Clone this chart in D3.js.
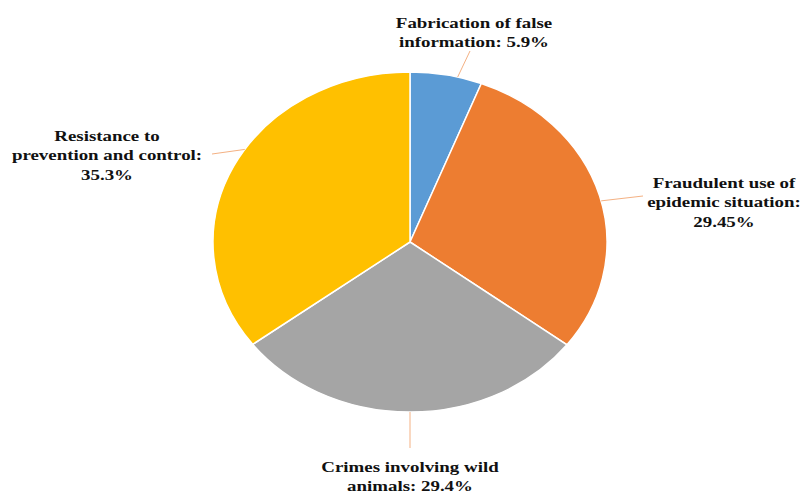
<!DOCTYPE html>
<html><head><meta charset="utf-8">
<script src="https://cdn.jsdelivr.net/npm/d3@7"></script>
<style>
html,body{margin:0;padding:0;background:#fff;}
svg{display:block;}
</style></head>
<body>
<svg id="chart" width="804" height="493"></svg>
<script>
// ---- data ----
const categories = ["Fabrication of false information", "Fraudulent use of epidemic situation", "Crimes involving wild animals", "Resistance to prevention and control"];
const values = [5.9, 29.45, 29.4, 35.3];
const valueLabels = ["5.9%", "29.45%", "29.4%", "35.3%"];
const colors = ["#5B9BD5", "#ED7D31", "#A5A5A5", "#FFC000"];

// ---- layout ----
const W = 804, H = 493;
const cx = 410, cy = 242, rx = 197, ry = 170;
const labelLines = [
  ["Fabrication of false", "information: 5.9%"],
  ["Fraudulent use of", "epidemic situation:", "29.45%"],
  ["Crimes involving wild", "animals: 29.4%"],
  ["Resistance to", "prevention and control:", "35.3%"]
];
const labelPos = [
  {x: 474, y: 28}, {x: 724, y: 188}, {x: 410, y: 472}, {x: 107, y: 141}
];
// leader lines: angle on pie edge (degrees clockwise from top) and end point
const leaders = [
  {a: 14, ex: 470, ey: 51},
  {a: 76, ex: 643, ey: 196},
  {a: 180, ex: 410, ey: 448},
  {a: 303, ex: 212, ey: 154}
];
const lineH = 19.5;
const textStretch = 1.22;

const svg = d3.select("#chart");
const pie = d3.pie().sort(null).value(d => d)(values);
const arc = d3.arc().innerRadius(0).outerRadius(ry);

const g = svg.append("g").attr("transform", `translate(${cx},${cy}) scale(${rx/ry},1)`);
g.selectAll("path").data(pie).join("path")
  .attr("d", arc)
  .attr("fill", (d,i) => colors[i])
  .attr("stroke", "#fff")
  .attr("stroke-width", 1.5)
  .attr("vector-effect", "non-scaling-stroke");

// leader lines
svg.selectAll("line.leader").data(leaders).join("line")
  .attr("class", "leader")
  .attr("x1", d => cx + rx * Math.sin(d.a * Math.PI/180))
  .attr("y1", d => cy - ry * Math.cos(d.a * Math.PI/180))
  .attr("x2", d => d.ex).attr("y2", d => d.ey)
  .attr("stroke", "#F4B183").attr("stroke-width", 1);

// labels
const lab = svg.selectAll("text.lab").data(labelLines).join("text")
  .attr("class", "lab")
  .attr("transform", (d,i) => `translate(${labelPos[i].x},${labelPos[i].y}) scale(${textStretch},1)`)
  .attr("text-anchor", "middle")
  .attr("font-family", "'Liberation Serif', 'Times New Roman', serif")
  .attr("font-weight", "bold")
  .attr("font-size", 15.5)
  .attr("fill", "#111");
lab.each(function(d,i){
  d3.select(this).selectAll("tspan").data(d).join("tspan")
    .attr("x", 0)
    .attr("dy", (t,j) => j === 0 ? 0 : lineH)
    .text(t => t);
});
</script>
</body></html>
